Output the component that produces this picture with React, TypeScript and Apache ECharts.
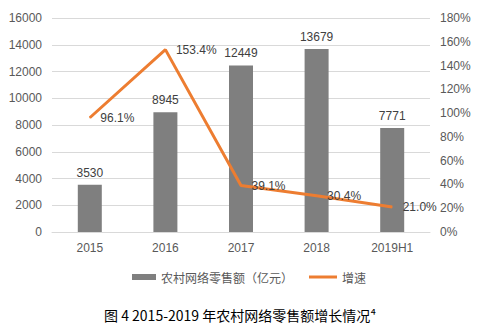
import React, { useEffect, useRef } from "react";
import * as echarts from "echarts";

const categories = ["2015", "2016", "2017", "2018", "2019H1"];
const salesValues = [3530, 8945, 12449, 13679, 7771];
const growthValues = [96.1, 153.4, 39.1, 30.4, 21.0];
const barName = "农村网络零售额（亿元）";
const lineName = "增速";
const captionText = "图 4 2015-2019 年农村网络零售额增长情况⁴";

const FONT = "'Liberation Sans', 'Noto Sans CJK SC', sans-serif";
const CJK = "'Noto Sans CJK SC', sans-serif";

export default function App() {
  const ref = useRef<HTMLDivElement>(null);
  useEffect(() => {
    if (!ref.current) return;
    const chart = echarts.init(ref.current, null, { renderer: "svg" });
    chart.setOption({
      animation: false,
      textStyle: { fontFamily: FONT },
      grid: { left: 52, right: 50, top: 18, bottom: 98, containLabel: false },
      legend: [
        {
          top: 266,
          left: 127,
          itemWidth: 24,
          itemHeight: 6,
          textStyle: { color: "#595959", fontSize: 12, fontFamily: CJK },
          data: [{ name: barName, icon: "rect" }],
        },
        {
          top: 266,
          left: 304,
          itemWidth: 28,
          itemHeight: 3,
          textStyle: { color: "#595959", fontSize: 12, fontFamily: CJK },
          data: [{ name: lineName, icon: "rect", itemStyle: { color: "#ED7D31" } }],
        },
      ],
      graphic: [
        {
          type: "text",
          left: "center",
          top: 308,
          style: {
            text: captionText,
            fontSize: 14,
            fill: "#000",
            fontFamily: CJK,
          },
        },
      ],
      xAxis: {
        type: "category",
        data: categories,
        axisTick: { show: false },
        axisLine: { lineStyle: { color: "#d9d9d9" } },
        axisLabel: { color: "#595959", fontSize: 12, margin: 10 },
      },
      yAxis: [
        {
          type: "value",
          min: 0,
          max: 16000,
          interval: 2000,
          axisLine: { show: false },
          axisTick: { show: false },
          axisLabel: { color: "#595959", fontSize: 12, margin: 10, formatter: (v: number) => String(v) },
          splitLine: { lineStyle: { color: "#d9d9d9" } },
        },
        {
          type: "value",
          min: 0,
          max: 180,
          interval: 20,
          axisLine: { show: false },
          axisTick: { show: false },
          axisLabel: { color: "#595959", fontSize: 12, margin: 10, formatter: "{value}%" },
          splitLine: { show: false },
        },
      ],
      series: [
        {
          name: barName,
          type: "bar",
          data: salesValues,
          barWidth: 24,
          itemStyle: { color: "#7f7f7f" },
          label: { show: true, position: "top", color: "#404040", fontSize: 12, distance: 6 },
        },
        {
          name: lineName,
          type: "line",
          yAxisIndex: 1,
          data: growthValues,
          symbol: "circle",
          symbolSize: 1,
          showSymbol: true,
          itemStyle: { color: "#ED7D31" },
          lineStyle: { color: "#ED7D31", width: 3 },
          label: {
            show: true,
            position: "right",
            distance: 10,
            color: "#404040",
            fontSize: 12,
            formatter: (p: any) => p.value.toFixed(1) + "%",
          },
        },
      ],
    });
    return () => chart.dispose();
  }, []);
  return (
    <div
      ref={ref}
      style={{ position: "fixed", left: 0, top: 0, width: 480, height: 330, background: "#fff" }}
    />
  );
}
